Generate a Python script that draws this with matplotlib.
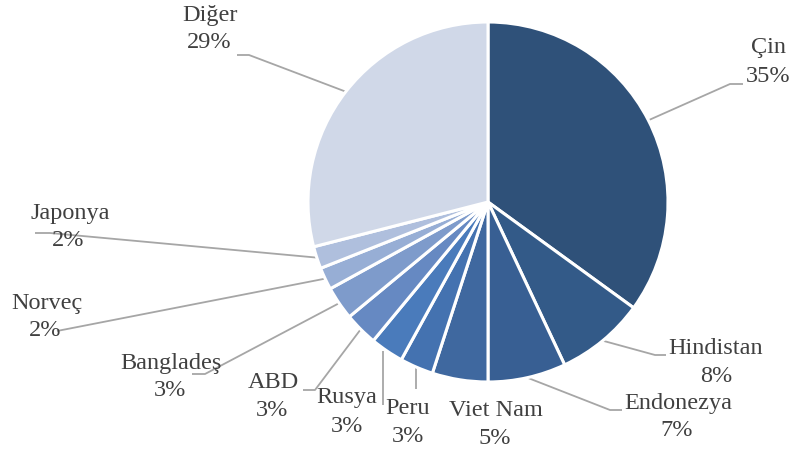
import matplotlib
matplotlib.use("Agg")
import matplotlib.pyplot as plt
import numpy as np

categories = ["Çin", "Hindistan", "Endonezya", "Viet Nam", "Peru", "Rusya",
              "ABD", "Bangladeş", "Norveç", "Japonya", "Diğer"]
values = [35, 8, 7, 5, 3, 3, 3, 3, 2, 2, 29]
pct_labels = ["35%", "8%", "7%", "5%", "3%", "3%", "3%", "3%", "2%", "2%", "29%"]

colors = ["#2F5179", "#335A88", "#385F93", "#3F689F", "#4472B0", "#4A7BBB",
          "#6689C2", "#7E9BCB", "#97AED5", "#AFBFDD", "#D0D8E8"]

W, H = 790, 450
fig = plt.figure(figsize=(7.9, 4.5), dpi=100)
ax = fig.add_axes([0, 0, 1, 1])

cx, cy, R = 488, 202, 180  # pixel coords (y down)
ax.pie(values, colors=colors, startangle=90, counterclock=False,
       center=(cx, H - cy), radius=R, frame=True,
       wedgeprops=dict(edgecolor="white", linewidth=2.2))
ax.set_xlim(0, W)
ax.set_ylim(0, H)
ax.set_aspect("equal")
ax.axis("off")

# label positions (px, y down): name center, pct center
label_pos = {
    "Çin": ((769, 48), (768, 76)),
    "Hindistan": ((716, 348), (716, 376)),
    "Endonezya": ((678, 404), (677, 431)),
    "Viet Nam": ((496, 410), (495, 438)),
    "Peru": ((408, 409), (408, 437)),
    "Rusya": ((347, 398), (347, 426)),
    "ABD": ((273, 383), (272, 410)),
    "Bangladeş": ((171, 363), (170, 391)),
    "Norveç": ((47, 303), (45, 331)),
    "Japonya": ((70, 213), (68, 240)),
    "Diğer": ((210, 15), (209, 42)),
}
# leader line path points after the pie edge (px, y down)
leaders = {
    "Çin": [(730, 84), (743, 84)],
    "Hindistan": [(655, 355), (666, 355)],
    "Endonezya": [(610, 410), (622, 410)],
    "Peru": [(416, 389)],
    "Rusya": [(383, 405)],
    "ABD": [(315, 390), (303, 390)],
    "Bangladeş": [(205, 374), (192, 374)],
    "Norveç": [(57, 331)],
    "Japonya": [(50, 233), (35, 233)],
    "Diğer": [(249, 55), (237, 55)],
}

total = sum(values)
cum = 0
txt_color = "#404040"
for cat, v, p in zip(categories, values, pct_labels):
    mid = cum + v / 2
    cum += v
    ang = np.deg2rad(90 - 360 * mid / total)
    ex, ey = cx + R * np.cos(ang), cy - R * np.sin(ang)
    if cat == "Rusya":
        ex = 383
    if cat == "Peru":
        ex = 416
    if cat in leaders:
        pts = [(ex, ey)] + leaders[cat]
        xs = [q[0] for q in pts]
        ys = [H - q[1] for q in pts]
        ax.plot(xs, ys, color="#A6A6A6", lw=1.3, zorder=0.5, solid_capstyle="butt")
    (nx, ny), (px, py) = label_pos[cat]
    ax.text(nx, H - ny, cat, ha="center", va="center", fontsize=17.5,
            family="Liberation Serif", color=txt_color)
    ax.text(px, H - py, p, ha="center", va="center", fontsize=17.5,
            family="Liberation Serif", color=txt_color)

fig.savefig("out.png", dpi=100, facecolor="white")
